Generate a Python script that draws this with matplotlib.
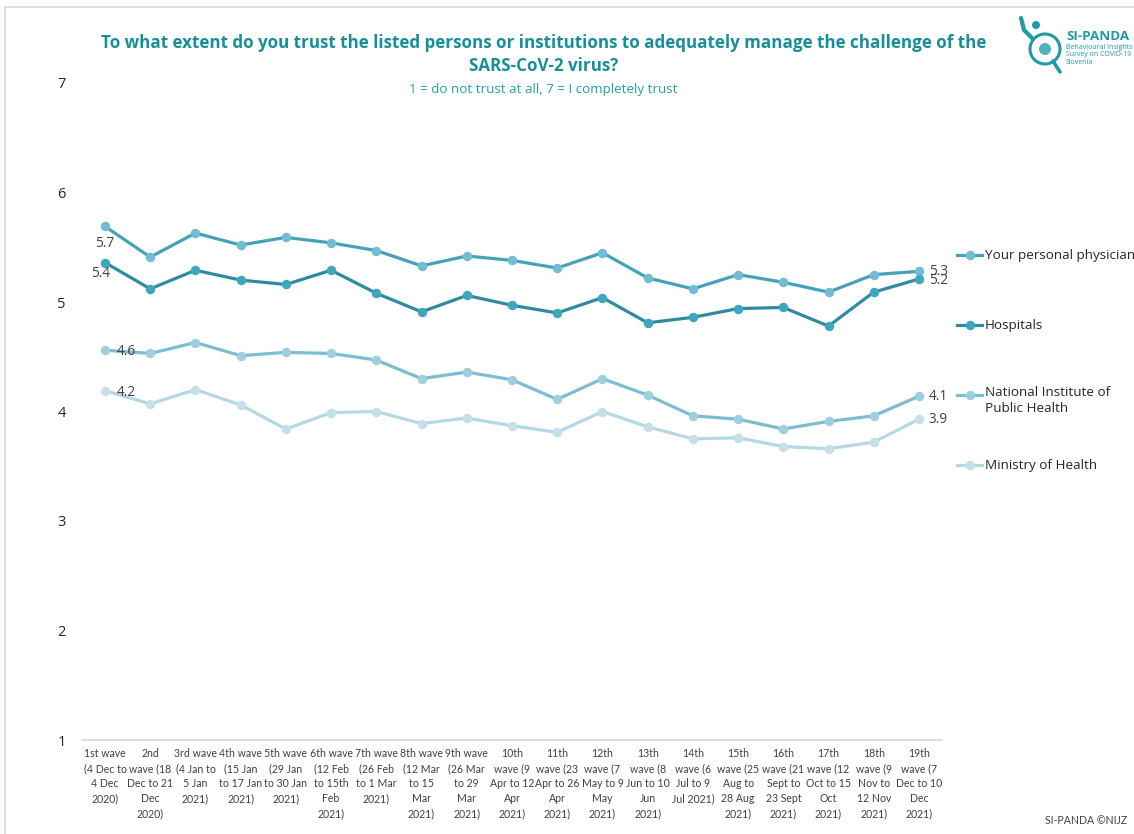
#!/usr/bin/env python3

import numpy as np
import matplotlib
matplotlib.use("Agg")
import matplotlib.pyplot as plt
from matplotlib.lines import Line2D
from matplotlib.patches import Rectangle, Circle

waves = [
	"1st wave\n(4 Dec to\n4 Dec\n2020)",
	"2nd\nwave (18\nDec to 21\nDec\n2020)",
	"3rd wave\n(4 Jan to\n5 Jan\n2021)",
	"4th wave\n(15 Jan\nto 17 Jan\n2021)",
	"5th wave\n(29 Jan\nto 30 Jan\n2021)",
	"6th wave\n(12 Feb\nto 15th\nFeb\n2021)",
	"7th wave\n(26 Feb\nto 1 Mar\n2021)",
	"8th wave\n(12 Mar\nto 15\nMar\n2021)",
	"9th wave\n(26 Mar\nto 29\nMar\n2021)",
	"10th\nwave (9\nApr to 12\nApr\n2021)",
	"11th\nwave (23\nApr to 26\nApr\n2021)",
	"12th\nwave (7\nMay to 9\nMay\n2021)",
	"13th\nwave (8\nJun to 10\nJun\n2021)",
	"14th\nwave (6\nJul to 9\nJul 2021)",
	"15th\nwave (25\nAug to\n28 Aug\n2021)",
	"16th\nwave (21\nSept to\n23 Sept\n2021)",
	"17th\nwave (12\nOct to 15\nOct\n2021)",
	"18th\nwave (9\nNov to\n12 Nov\n2021)",
	"19th\nwave (7\nDec to 10\nDec\n2021)",
]

physician = [5.69, 5.41, 5.63, 5.52, 5.59, 5.54, 5.47, 5.33, 5.42, 5.38,
	5.31, 5.45, 5.22, 5.12, 5.25, 5.18, 5.09, 5.25, 5.28]
hospitals = [5.36, 5.12, 5.29, 5.20, 5.16, 5.29, 5.08, 4.91, 5.06, 4.97,
	4.90, 5.04, 4.81, 4.86, 4.94, 4.95, 4.78, 5.09, 5.21]
niph = [4.56, 4.53, 4.63, 4.51, 4.54, 4.53, 4.47, 4.30, 4.36, 4.29,
	4.11, 4.30, 4.15, 3.96, 3.93, 3.84, 3.91, 3.96, 4.14]
ministry = [4.19, 4.07, 4.20, 4.06, 3.84, 3.99, 4.00, 3.89, 3.94, 3.87,
	3.81, 4.00, 3.86, 3.75, 3.76, 3.68, 3.66, 3.72, 3.93]

names = ["Your personal physician", "Hospitals",
	"National Institute of\nPublic Health", "Ministry of Health"]
line_colors = ["#45a2b9", "#2f8b9f", "#7cbdd2", "#b4d8e4"]
marker_colors = ["#72bdd2", "#3fa6bf", "#9fcfdf", "#c4e0ea"]

W, H = 1134, 834
fig = plt.figure(figsize=(W / 100, H / 100), dpi=100)

def fx(px):
	return px / W

def fy(py):
	return 1 - py / H

ax = fig.add_axes([fx(82.4), fy(740), fx(941.6) - fx(82.4), fy(83) - fy(740)])
x = np.arange(len(waves))
series = [physician, hospitals, niph, ministry]
for vals, lc, mc in zip(series, line_colors, marker_colors):
	ax.plot(x, vals, color=lc, lw=2.3, marker="o", ms=5.8,
		markerfacecolor=mc, markeredgecolor=mc, solid_capstyle="round")

ax.set_xlim(-0.5, len(waves) - 0.5)
ax.set_ylim(1, 7)
ax.set_yticks(range(1, 8))
ax.set_xticks(x)
ax.set_xticklabels(waves, fontfamily="Lato", fontsize=7.6, color="#404040",
	linespacing=1.45, va="top")
ax.tick_params(axis="x", length=0, pad=6)
ax.tick_params(axis="y", length=0, pad=12, labelsize=10.5, labelcolor="#262626")
for lab in ax.get_yticklabels():
	lab.set_fontfamily("Open Sans")
for s in ["top", "right", "left"]:
	ax.spines[s].set_visible(False)
ax.spines["bottom"].set_color("#d9d9d9")
ax.spines["bottom"].set_linewidth(1.2)
ax.patch.set_alpha(0)

# data labels at first and last wave
lab_kw = dict(fontsize=9.8, color="#404040", fontfamily="Open Sans")
ax.annotate(f"{physician[0]:.1f}", (0, physician[0]), xytext=(0, -12.5),
	textcoords="offset points", ha="center", va="center", **lab_kw)
ax.annotate(f"{hospitals[0]:.1f}", (0, hospitals[0]), xytext=(-3, -8),
	textcoords="offset points", ha="center", va="center", **lab_kw)
ax.annotate(f"{niph[0]:.1f}", (0, niph[0]), xytext=(15, -1),
	textcoords="offset points", ha="center", va="center", **lab_kw)
ax.annotate(f"{ministry[0]:.1f}", (0, ministry[0]), xytext=(15, -1),
	textcoords="offset points", ha="center", va="center", **lab_kw)
last = len(waves) - 1
for vals, dy in zip(series, [0, -1, 0, 0]):
	ax.annotate(f"{vals[-1]:.1f}", (last, vals[-1]), xytext=(14, dy),
		textcoords="offset points", ha="center", va="center", **lab_kw)

# legend on the right
leg_y = [255, 325, 395, 465]
for name, lc, mc, py in zip(names, line_colors, marker_colors, leg_y):
	fig.add_artist(Line2D([fx(957), fx(982)], [fy(py), fy(py)], color=lc, lw=2.3))
	fig.add_artist(Line2D([fx(969.5)], [fy(py)], marker="o", ms=5.8,
		markerfacecolor=mc, markeredgecolor=mc))
	two = "\n" in name
	fig.text(fx(985), fy(py - 9) if two else fy(py), name, fontsize=9.7,
		color="#262626", fontfamily="Open Sans",
		va="top" if two else "center", linespacing=1.35)

# titles
teal = "#178f99"
fig.text(fx(544), fy(43), "To what extent do you trust the listed persons or institutions to adequately manage the challenge of the",
	ha="center", va="center", fontsize=12.25, fontweight="bold", color=teal, fontfamily="Open Sans")
fig.text(fx(544), fy(66), "SARS-CoV-2 virus?",
	ha="center", va="center", fontsize=12.25, fontweight="bold", color=teal, fontfamily="Open Sans")
fig.text(fx(543), fy(89), "1 = do not trust at all, 7 = I completely trust",
	ha="center", va="center", fontsize=9.6, color="#21a0a8", fontfamily="Open Sans")

fig.text(fx(1045), fy(820), "SI-PANDA ©NIJZ", ha="left", va="center",
	fontsize=7.6, color="#404040", fontfamily="Lato")

# chart border
fig.add_artist(Rectangle((fx(5), fy(840)), 1.2, fy(7) - fy(840), transform=fig.transFigure,
	fill=False, edgecolor="#d9d9d9", lw=1.2))

# logo
lax = fig.add_axes([fx(1010), fy(82), fx(124), fy(10) - fy(82)])
lax.set_xlim(1010, 1134)
lax.set_ylim(82, 10)
lax.set_aspect("equal")
lax.axis("off")
lax.add_patch(Circle((1045, 49), 15, fill=False, edgecolor="#1f9aa6", lw=2.2))
lax.add_patch(Circle((1045, 49), 6, facecolor="#4fb3be", edgecolor="none"))
lax.plot([1053, 1060], [61, 72], color="#1f9aa6", lw=2.6, solid_capstyle="round")
lax.plot([1032, 1024, 1021], [38, 30, 18], color="#1f9aa6", lw=3, solid_capstyle="round")
lax.add_patch(Circle((1036, 25), 4, facecolor="#1f9aa6", edgecolor="none"))
lax.text(1066, 37, "SI-PANDA", fontsize=9.6, fontweight="bold", color="#1f9aa6",
	fontfamily="Open Sans", va="center", ha="left")
lax.text(1066, 55, "Behavioural Insights\nSurvey on COVID-19\nSlovenia", fontsize=5.0,
	color="#1f9aa6", fontfamily="Open Sans", va="center", ha="left", linespacing=1.05)

fig.savefig("out.png", dpi=100)
